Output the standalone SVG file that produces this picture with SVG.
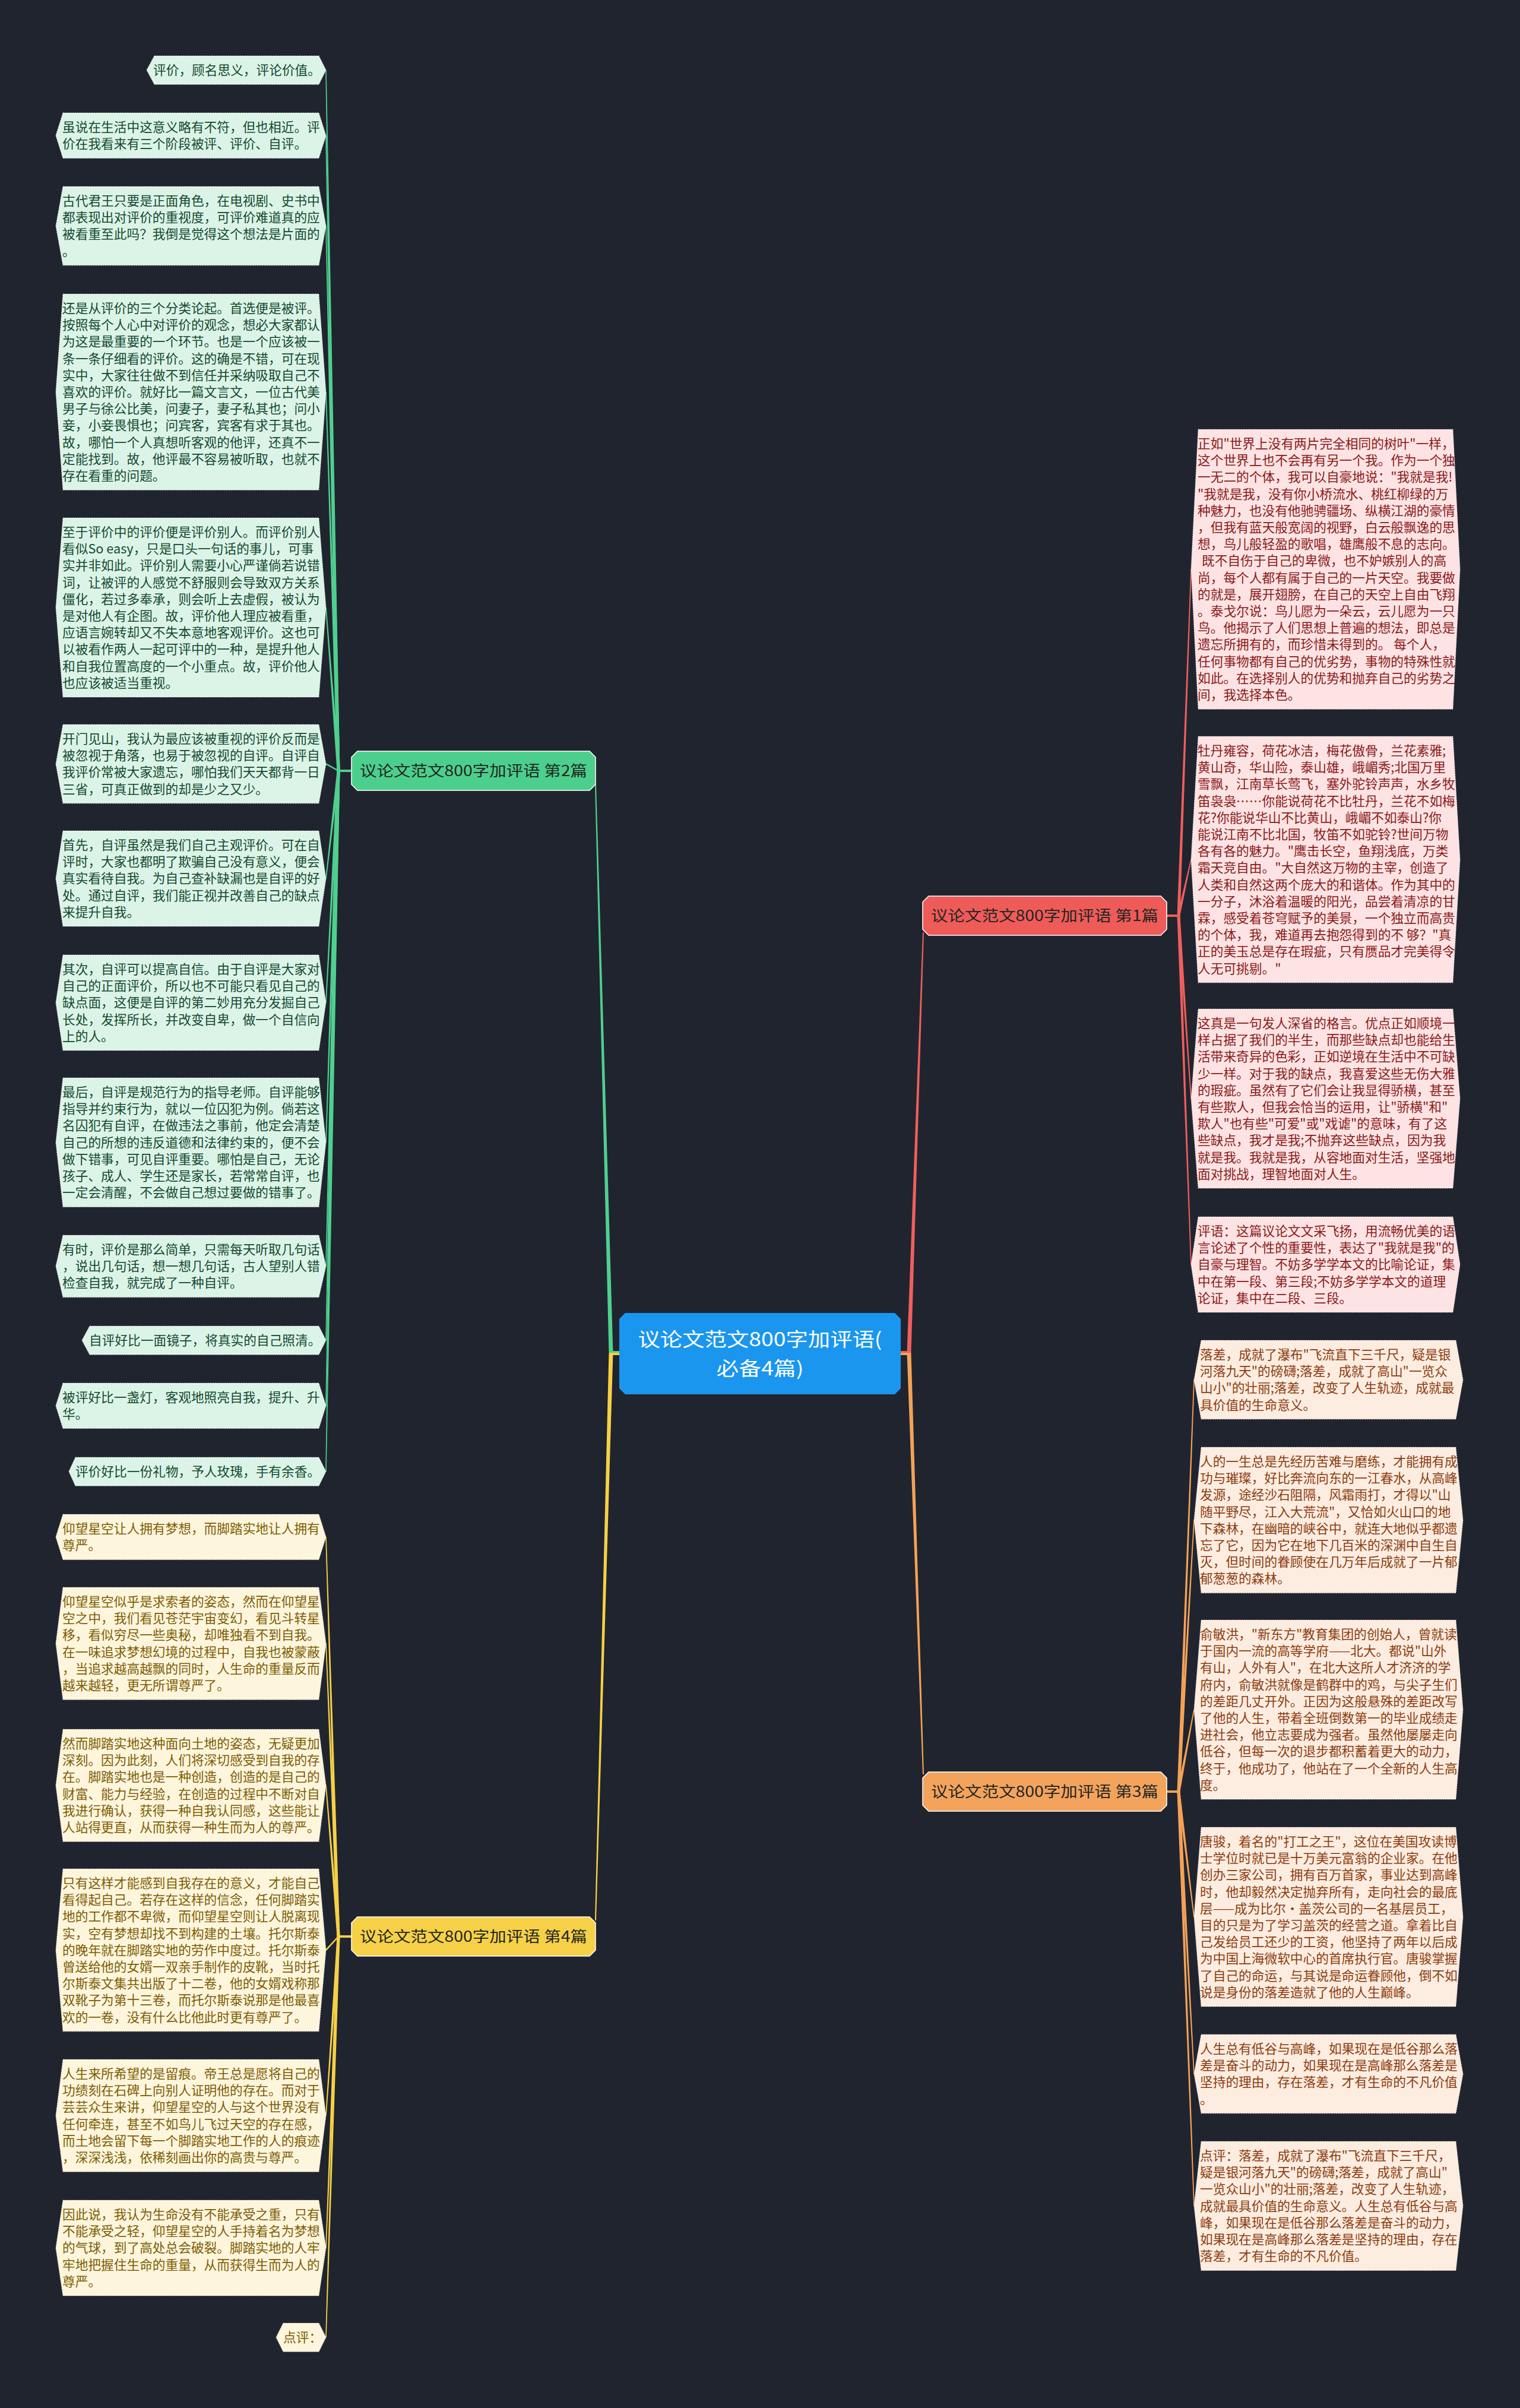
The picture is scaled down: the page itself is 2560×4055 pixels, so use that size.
<svg xmlns="http://www.w3.org/2000/svg" width="2560" height="4055" viewBox="0 0 2560 4055">
<style>
.t{font-family:"Noto Sans CJK SC","Noto Sans",sans-serif;font-size:21.7px}
.leaf{stroke:#ffffff;stroke-opacity:.6;stroke-width:1.2;stroke-dasharray:2 2}
.fg{fill:#dcf4e8}.tg{fill:#134a2f}
.fy{fill:#fdf5dc}.ty{fill:#7d5d05}
.fr{fill:#fde3e3}.tr{fill:#8a1a1a}
.fo{fill:#fdece0}.to{fill:#8b3d0f}
.br{stroke:#ffffff;stroke-width:1.5}
.bt{font-family:"Noto Sans CJK SC","Noto Sans",sans-serif;font-size:25px;fill:#1f2622;text-anchor:middle}
.ct{font-family:"Noto Sans CJK SC","Noto Sans",sans-serif;font-size:32px;fill:#ffffff;text-anchor:middle}
.cg{fill:#4fd08f}.cy{fill:#f5d145}.cr{fill:#ef5f5c}.co{fill:#f4a257}
</style>
<rect x="0" y="0" width="2560" height="4055" fill="#20242f"/>

<g id="connectors">
  <polygon class="cg" points="1025.5,2278 1032.5,2278 1004,1321 1002,1321"/>
  <polygon class="cy" points="1025.5,2278 1032.5,2278 1004,3234 1002,3234"/>
  <polygon class="cr" points="1527.5,2278 1534.5,2278 1556,1570 1554,1570"/>
  <polygon class="co" points="1527.5,2278 1534.5,2278 1556,2988 1554,2988"/>
  <line x1="1026" y1="2278" x2="1044" y2="2278" stroke="#4fd08f" stroke-width="6"/>
  <line x1="1026" y1="2280" x2="1044" y2="2280" stroke="#f5d145" stroke-width="4"/>
  <line x1="1516" y1="2278" x2="1534" y2="2278" stroke="#ef5f5c" stroke-width="6"/>
  <line x1="1516" y1="2280" x2="1534" y2="2280" stroke="#f4a257" stroke-width="4"/>
  <line x1="593" y1="1298" x2="569" y2="1298" stroke="#4fd08f" stroke-width="4"/>
  <polygon class="cg" points="567.5,1298 572.5,1298 549.8,118.1 548.2,118.1"/>
  <polygon class="cg" points="567.5,1298 572.5,1298 549.8,228.2 548.2,228.2"/>
  <polygon class="cg" points="567.5,1298 572.5,1298 549.8,380.4 548.2,380.4"/>
  <polygon class="cg" points="567.5,1298 572.5,1298 549.8,660.1 548.2,660.1"/>
  <polygon class="cg" points="567.5,1298 572.5,1298 549.8,1023 548.2,1023"/>
  <line x1="570" y1="1298" x2="549" y2="1286.4" stroke="#4fd08f" stroke-width="2.5"/>
  <polygon class="cg" points="567.5,1298 572.5,1298 549.8,1479.5 548.2,1479.5"/>
  <polygon class="cg" points="567.5,1298 572.5,1298 549.8,1688.5 548.2,1688.5"/>
  <polygon class="cg" points="567.5,1298 572.5,1298 549.8,1923.7 548.2,1923.7"/>
  <polygon class="cg" points="567.5,1298 572.5,1298 549.8,2132.3 548.2,2132.3"/>
  <polygon class="cg" points="567.5,1298 572.5,1298 549.8,2257.1 548.2,2257.1"/>
  <polygon class="cg" points="567.5,1298 572.5,1298 549.8,2367.2 548.2,2367.2"/>
  <polygon class="cg" points="567.5,1298 572.5,1298 549.8,2478.1 548.2,2478.1"/>
  <line x1="593" y1="3261" x2="569" y2="3261" stroke="#f5d145" stroke-width="4"/>
  <polygon class="cy" points="567.5,3261 572.5,3261 549.8,2588.2 548.2,2588.2"/>
  <polygon class="cy" points="567.5,3261 572.5,3261 549.8,2767.6 548.2,2767.6"/>
  <polygon class="cy" points="567.5,3261 572.5,3261 549.8,3006.6 548.2,3006.6"/>
  <line x1="570" y1="3261" x2="549" y2="3283.9" stroke="#f5d145" stroke-width="2.5"/>
  <polygon class="cy" points="567.5,3261 572.5,3261 549.8,3562.6 548.2,3562.6"/>
  <polygon class="cy" points="567.5,3261 572.5,3261 549.8,3785.5 548.2,3785.5"/>
  <polygon class="cy" points="567.5,3261 572.5,3261 549.8,3936.1 548.2,3936.1"/>
  <line x1="1964" y1="1542" x2="1986" y2="1542" stroke="#ef5f5c" stroke-width="4"/>
  <polygon class="cr" points="1982.5,1542 1987.5,1542 2006.8,958.6 2005.2,958.6"/>
  <polygon class="cr" points="1982.5,1542 1987.5,1542 2006.8,1447.4 2005.2,1447.4"/>
  <polygon class="cr" points="1982.5,1542 1987.5,1542 2006.8,1850 2005.2,1850"/>
  <polygon class="cr" points="1982.5,1542 1987.5,1542 2006.8,2129.5 2005.2,2129.5"/>
  <line x1="1964" y1="3017" x2="1986" y2="3017" stroke="#f4a257" stroke-width="4"/>
  <polygon class="co" points="1982.5,3017 1987.5,3017 2011.8,2323.4 2010.2,2323.4"/>
  <polygon class="co" points="1982.5,3017 1987.5,3017 2011.8,2559.8 2010.2,2559.8"/>
  <polygon class="co" points="1982.5,3017 1987.5,3017 2011.8,2879 2010.2,2879"/>
  <polygon class="co" points="1982.5,3017 1987.5,3017 2011.8,3228 2010.2,3228"/>
  <polygon class="co" points="1982.5,3017 1987.5,3017 2011.8,3492.4 2010.2,3492.4"/>
  <polygon class="co" points="1982.5,3017 1987.5,3017 2011.8,3714.7 2010.2,3714.7"/>
</g>

<g id="center">
  <path d="M1053,2211 H1507 L1517,2221 V2338 L1507,2348 H1053 L1043,2338 V2221 Z" fill="#1a96ef"/>
  <text class="ct" x="1280" y="2267" textLength="411" lengthAdjust="spacingAndGlyphs">议论文范文800字加评语(</text>
  <text class="ct" x="1280" y="2316" textLength="147" lengthAdjust="spacingAndGlyphs">必备4篇)</text>
</g>

<g id="branch2">
  <path class="br" d="M602,1265 H993 L1003,1275 V1321 L993,1331 H602 L592,1321 V1275 Z" fill="#4ccf8c"/>
  <text class="bt" x="797.5" y="1307" textLength="383" lengthAdjust="spacingAndGlyphs">议论文范文800字加评语 第2篇</text>
</g>
<g id="branch4">
  <path class="br" d="M602,3228 H993 L1003,3238 V3284 L993,3294 H602 L592,3284 V3238 Z" fill="#f6d147"/>
  <text class="bt" x="797.5" y="3270" textLength="383" lengthAdjust="spacingAndGlyphs">议论文范文800字加评语 第4篇</text>
</g>
<g id="branch1">
  <path class="br" d="M1564,1509 H1955 L1965,1519 V1565 L1955,1575 H1564 L1554,1565 V1519 Z" fill="#ee5b58"/>
  <text class="bt" x="1759.5" y="1551" textLength="383" lengthAdjust="spacingAndGlyphs">议论文范文800字加评语 第1篇</text>
</g>
<g id="branch3">
  <path class="br" d="M1564,2984 H1955 L1965,2994 V3040 L1955,3050 H1564 L1554,3040 V2994 Z" fill="#f3a35c"/>
  <text class="bt" x="1759.5" y="3026" textLength="383" lengthAdjust="spacingAndGlyphs">议论文范文800字加评语 第3篇</text>
</g>

<g id="leaf-g1">
  <path class="leaf fg" d="M260,94 H537 L549,118.1 L537,142.2 H260 L247,118.1 Z"/>
  <text class="t tg" x="258" y="126">评价，顾名思义，评论价值。</text>
</g>
<g id="leaf-g2">
  <path class="leaf fg" d="M106,190 H537 L549,228.2 L537,266.4 H106 L94,228.2 Z"/>
  <text class="t tg" x="105" y="222"><tspan x="105" dy="0">虽说在生活中这意义略有不符，但也相近。评</tspan><tspan x="105" dy="28.2">价在我看来有三个阶段被评、评价、自评。</tspan></text>
</g>
<g id="leaf-g3">
  <path class="leaf fg" d="M106,314 H537 L549,380.4 L537,446.8 H106 L94,380.4 Z"/>
  <text class="t tg" x="105" y="346"><tspan x="105" dy="0">古代君王只要是正面角色，在电视剧、史书中</tspan><tspan x="105" dy="28.2">都表现出对评价的重视度，可评价难道真的应</tspan><tspan x="105" dy="28.2">被看重至此吗？我倒是觉得这个想法是片面的</tspan><tspan x="105" dy="28.2">。</tspan></text>
</g>
<g id="leaf-g4">
  <path class="leaf fg" d="M106,495 H537 L549,660.1 L537,825.2 H106 L94,660.1 Z"/>
  <text class="t tg" x="105" y="527"><tspan x="105" dy="0">还是从评价的三个分类论起。首选便是被评。</tspan><tspan x="105" dy="28.2">按照每个人心中对评价的观念，想必大家都认</tspan><tspan x="105" dy="28.2">为这是最重要的一个环节。也是一个应该被一</tspan><tspan x="105" dy="28.2">条一条仔细看的评价。这的确是不错，可在现</tspan><tspan x="105" dy="28.2">实中，大家往往做不到信任并采纳吸取自己不</tspan><tspan x="105" dy="28.2">喜欢的评价。就好比一篇文言文，一位古代美</tspan><tspan x="105" dy="28.2">男子与徐公比美，问妻子，妻子私其也；问小</tspan><tspan x="105" dy="28.2">妾，小妾畏惧也；问宾客，宾客有求于其也。</tspan><tspan x="105" dy="28.2">故，哪怕一个人真想听客观的他评，还真不一</tspan><tspan x="105" dy="28.2">定能找到。故，他评最不容易被听取，也就不</tspan><tspan x="105" dy="28.2">存在看重的问题。</tspan></text>
</g>
<g id="leaf-g5">
  <path class="leaf fg" d="M106,872 H537 L549,1023 L537,1174 H106 L94,1023 Z"/>
  <text class="t tg" x="105" y="904"><tspan x="105" dy="0">至于评价中的评价便是评价别人。而评价别人</tspan><tspan x="105" dy="28.2">看似So easy，只是口头一句话的事儿，可事</tspan><tspan x="105" dy="28.2">实并非如此。评价别人需要小心严谨倘若说错</tspan><tspan x="105" dy="28.2">词，让被评的人感觉不舒服则会导致双方关系</tspan><tspan x="105" dy="28.2">僵化，若过多奉承，则会听上去虚假，被认为</tspan><tspan x="105" dy="28.2">是对他人有企图。故，评价他人理应被看重，</tspan><tspan x="105" dy="28.2">应语言婉转却又不失本意地客观评价。这也可</tspan><tspan x="105" dy="28.2">以被看作两人一起可评中的一种，是提升他人</tspan><tspan x="105" dy="28.2">和自我位置高度的一个小重点。故，评价他人</tspan><tspan x="105" dy="28.2">也应该被适当重视。</tspan></text>
</g>
<g id="leaf-g6">
  <path class="leaf fg" d="M106,1220 H537 L549,1286.4 L537,1352.8 H106 L94,1286.4 Z"/>
  <text class="t tg" x="105" y="1252"><tspan x="105" dy="0">开门见山，我认为最应该被重视的评价反而是</tspan><tspan x="105" dy="28.2">被忽视于角落，也易于被忽视的自评。自评自</tspan><tspan x="105" dy="28.2">我评价常被大家遗忘，哪怕我们天天都背一日</tspan><tspan x="105" dy="28.2">三省，可真正做到的却是少之又少。</tspan></text>
</g>
<g id="leaf-g7">
  <path class="leaf fg" d="M106,1399 H537 L549,1479.5 L537,1560 H106 L94,1479.5 Z"/>
  <text class="t tg" x="105" y="1431"><tspan x="105" dy="0">首先，自评虽然是我们自己主观评价。可在自</tspan><tspan x="105" dy="28.2">评时，大家也都明了欺骗自己没有意义，便会</tspan><tspan x="105" dy="28.2">真实看待自我。为自己查补缺漏也是自评的好</tspan><tspan x="105" dy="28.2">处。通过自评，我们能正视并改善自己的缺点</tspan><tspan x="105" dy="28.2">来提升自我。</tspan></text>
</g>
<g id="leaf-g8">
  <path class="leaf fg" d="M106,1608 H537 L549,1688.5 L537,1769 H106 L94,1688.5 Z"/>
  <text class="t tg" x="105" y="1640"><tspan x="105" dy="0">其次，自评可以提高自信。由于自评是大家对</tspan><tspan x="105" dy="28.2">自己的正面评价，所以也不可能只看见自己的</tspan><tspan x="105" dy="28.2">缺点面，这便是自评的第二妙用充分发掘自己</tspan><tspan x="105" dy="28.2">长处，发挥所长，并改变自卑，做一个自信向</tspan><tspan x="105" dy="28.2">上的人。</tspan></text>
</g>
<g id="leaf-g9">
  <path class="leaf fg" d="M106,1815 H537 L549,1923.7 L537,2032.4 H106 L94,1923.7 Z"/>
  <text class="t tg" x="105" y="1847"><tspan x="105" dy="0">最后，自评是规范行为的指导老师。自评能够</tspan><tspan x="105" dy="28.2">指导并约束行为，就以一位囚犯为例。倘若这</tspan><tspan x="105" dy="28.2">名囚犯有自评，在做违法之事前，他定会清楚</tspan><tspan x="105" dy="28.2">自己的所想的违反道德和法律约束的，便不会</tspan><tspan x="105" dy="28.2">做下错事，可见自评重要。哪怕是自己，无论</tspan><tspan x="105" dy="28.2">孩子、成人、学生还是家长，若常常自评，也</tspan><tspan x="105" dy="28.2">一定会清醒，不会做自己想过要做的错事了。</tspan></text>
</g>
<g id="leaf-g10">
  <path class="leaf fg" d="M106,2080 H537 L549,2132.3 L537,2184.6 H106 L94,2132.3 Z"/>
  <text class="t tg" x="105" y="2112"><tspan x="105" dy="0">有时，评价是那么简单，只需每天听取几句话</tspan><tspan x="105" dy="28.2">，说出几句话，想一想几句话，古人望别人错</tspan><tspan x="105" dy="28.2">检查自我，就完成了一种自评。</tspan></text>
</g>
<g id="leaf-g11">
  <path class="leaf fg" d="M151,2233 H537 L549,2257.1 L537,2281.2 H151 L138,2257.1 Z"/>
  <text class="t tg" x="150" y="2265">自评好比一面镜子，将真实的自己照清。</text>
</g>
<g id="leaf-g12">
  <path class="leaf fg" d="M106,2329 H537 L549,2367.2 L537,2405.4 H106 L94,2367.2 Z"/>
  <text class="t tg" x="105" y="2361"><tspan x="105" dy="0">被评好比一盏灯，客观地照亮自我，提升、升</tspan><tspan x="105" dy="28.2">华。</tspan></text>
</g>
<g id="leaf-g13">
  <path class="leaf fg" d="M127,2454 H537 L549,2478.1 L537,2502.2 H127 L116,2478.1 Z"/>
  <text class="t tg" x="127" y="2486">评价好比一份礼物，予人玫瑰，手有余香。</text>
</g>

<g id="leaf-y1">
  <path class="leaf fy" d="M106,2550 H537 L549,2588.2 L537,2626.4 H106 L94,2588.2 Z"/>
  <text class="t ty" x="105" y="2582"><tspan x="105" dy="0">仰望星空让人拥有梦想，而脚踏实地让人拥有</tspan><tspan x="105" dy="28.2">尊严。</tspan></text>
</g>
<g id="leaf-y2">
  <path class="leaf fy" d="M106,2673 H537 L549,2767.6 L537,2862.2 H106 L94,2767.6 Z"/>
  <text class="t ty" x="105" y="2705"><tspan x="105" dy="0">仰望星空似乎是求索者的姿态，然而在仰望星</tspan><tspan x="105" dy="28.2">空之中，我们看见苍茫宇宙变幻，看见斗转星</tspan><tspan x="105" dy="28.2">移，看似穷尽一些奥秘，却唯独看不到自我。</tspan><tspan x="105" dy="28.2">在一味追求梦想幻境的过程中，自我也被蒙蔽</tspan><tspan x="105" dy="28.2">，当追求越高越飘的同时，人生命的重量反而</tspan><tspan x="105" dy="28.2">越来越轻，更无所谓尊严了。</tspan></text>
</g>
<g id="leaf-y3">
  <path class="leaf fy" d="M106,2912 H537 L549,3006.6 L537,3101.2 H106 L94,3006.6 Z"/>
  <text class="t ty" x="105" y="2944"><tspan x="105" dy="0">然而脚踏实地这种面向土地的姿态，无疑更加</tspan><tspan x="105" dy="28.2">深刻。因为此刻，人们将深切感受到自我的存</tspan><tspan x="105" dy="28.2">在。脚踏实地也是一种创造，创造的是自己的</tspan><tspan x="105" dy="28.2">财富、能力与经验，在创造的过程中不断对自</tspan><tspan x="105" dy="28.2">我进行确认，获得一种自我认同感，这些能让</tspan><tspan x="105" dy="28.2">人站得更直，从而获得一种生而为人的尊严。</tspan></text>
</g>
<g id="leaf-y4">
  <path class="leaf fy" d="M106,3147 H537 L549,3283.9 L537,3420.8 H106 L94,3283.9 Z"/>
  <text class="t ty" x="105" y="3179"><tspan x="105" dy="0">只有这样才能感到自我存在的意义，才能自己</tspan><tspan x="105" dy="28.2">看得起自己。若存在这样的信念，任何脚踏实</tspan><tspan x="105" dy="28.2">地的工作都不卑微，而仰望星空则让人脱离现</tspan><tspan x="105" dy="28.2">实，空有梦想却找不到构建的土壤。托尔斯泰</tspan><tspan x="105" dy="28.2">的晚年就在脚踏实地的劳作中度过。托尔斯泰</tspan><tspan x="105" dy="28.2">曾送给他的女婿一双亲手制作的皮靴，当时托</tspan><tspan x="105" dy="28.2">尔斯泰文集共出版了十二卷，他的女婿戏称那</tspan><tspan x="105" dy="28.2">双靴子为第十三卷，而托尔斯泰说那是他最喜</tspan><tspan x="105" dy="28.2">欢的一卷，没有什么比他此时更有尊严了。</tspan></text>
</g>
<g id="leaf-y5">
  <path class="leaf fy" d="M106,3468 H537 L549,3562.6 L537,3657.2 H106 L94,3562.6 Z"/>
  <text class="t ty" x="105" y="3500"><tspan x="105" dy="0">人生来所希望的是留痕。帝王总是愿将自己的</tspan><tspan x="105" dy="28.2">功绩刻在石碑上向别人证明他的存在。而对于</tspan><tspan x="105" dy="28.2">芸芸众生来讲，仰望星空的人与这个世界没有</tspan><tspan x="105" dy="28.2">任何牵连，甚至不如鸟儿飞过天空的存在感，</tspan><tspan x="105" dy="28.2">而土地会留下每一个脚踏实地工作的人的痕迹</tspan><tspan x="105" dy="28.2">，深深浅浅，依稀刻画出你的高贵与尊严。</tspan></text>
</g>
<g id="leaf-y6">
  <path class="leaf fy" d="M106,3705 H537 L549,3785.5 L537,3866 H106 L94,3785.5 Z"/>
  <text class="t ty" x="105" y="3737"><tspan x="105" dy="0">因此说，我认为生命没有不能承受之重，只有</tspan><tspan x="105" dy="28.2">不能承受之轻，仰望星空的人手持着名为梦想</tspan><tspan x="105" dy="28.2">的气球，到了高处总会破裂。脚踏实地的人牢</tspan><tspan x="105" dy="28.2">牢地把握住生命的重量，从而获得生而为人的</tspan><tspan x="105" dy="28.2">尊严。</tspan></text>
</g>
<g id="leaf-y7">
  <path class="leaf fy" d="M477,3912 H537 L549,3936.1 L537,3960.2 H477 L465,3936.1 Z"/>
  <text class="t ty" x="477" y="3944">点评：</text>
</g>

<g id="leaf-r1">
  <path class="leaf fr" d="M2018,723 H2447 L2459,958.6 L2447,1194.2 H2018 L2006,958.6 Z"/>
  <text class="t tr" x="2017" y="755"><tspan x="2017" dy="0">正如"世界上没有两片完全相同的树叶"一样，</tspan><tspan x="2017" dy="28.2">这个世界上也不会再有另一个我。作为一个独</tspan><tspan x="2017" dy="28.2">一无二的个体，我可以自豪地说："我就是我!</tspan><tspan x="2017" dy="28.2">"我就是我，没有你小桥流水、桃红柳绿的万</tspan><tspan x="2017" dy="28.2">种魅力，也没有他驰骋疆场、纵横江湖的豪情</tspan><tspan x="2017" dy="28.2">，但我有蓝天般宽阔的视野，白云般飘逸的思</tspan><tspan x="2017" dy="28.2">想，鸟儿般轻盈的歌唱，雄鹰般不息的志向。</tspan><tspan x="2024" dy="28.2">既不自伤于自己的卑微，也不妒嫉别人的高</tspan><tspan x="2017" dy="28.2">尚，每个人都有属于自己的一片天空。我要做</tspan><tspan x="2017" dy="28.2">的就是，展开翅膀，在自己的天空上自由飞翔</tspan><tspan x="2017" dy="28.2">。泰戈尔说：鸟儿愿为一朵云，云儿愿为一只</tspan><tspan x="2017" dy="28.2">鸟。他揭示了人们思想上普遍的想法，即总是</tspan><tspan x="2017" dy="28.2">遗忘所拥有的，而珍惜未得到的。 每个人，</tspan><tspan x="2017" dy="28.2">任何事物都有自己的优劣势，事物的特殊性就</tspan><tspan x="2017" dy="28.2">如此。在选择别人的优势和抛弃自己的劣势之</tspan><tspan x="2017" dy="28.2">间，我选择本色。</tspan></text>
</g>
<g id="leaf-r2">
  <path class="leaf fr" d="M2018,1240 H2447 L2459,1447.4 L2447,1654.8 H2018 L2006,1447.4 Z"/>
  <text class="t tr" x="2017" y="1272"><tspan x="2017" dy="0">牡丹雍容，荷花冰洁，梅花傲骨，兰花素雅;</tspan><tspan x="2017" dy="28.2">黄山奇，华山险，泰山雄，峨嵋秀;北国万里</tspan><tspan x="2017" dy="28.2">雪飘，江南草长莺飞，塞外驼铃声声，水乡牧</tspan><tspan x="2017" dy="28.2">笛袅袅……你能说荷花不比牡丹，兰花不如梅</tspan><tspan x="2017" dy="28.2">花?你能说华山不比黄山，峨嵋不如泰山?你</tspan><tspan x="2017" dy="28.2">能说江南不比北国，牧笛不如驼铃?世间万物</tspan><tspan x="2017" dy="28.2">各有各的魅力。"鹰击长空，鱼翔浅底，万类</tspan><tspan x="2017" dy="28.2">霜天竞自由。"大自然这万物的主宰，创造了</tspan><tspan x="2017" dy="28.2">人类和自然这两个庞大的和谐体。作为其中的</tspan><tspan x="2017" dy="28.2">一分子，沐浴着温暖的阳光，品尝着清凉的甘</tspan><tspan x="2017" dy="28.2">霖，感受着苍穹赋予的美景，一个独立而高贵</tspan><tspan x="2017" dy="28.2">的个体，我，难道再去抱怨得到的不 够？"真</tspan><tspan x="2017" dy="28.2">正的美玉总是存在瑕疵，只有赝品才完美得令</tspan><tspan x="2017" dy="28.2">人无可挑剔。"</tspan></text>
</g>
<g id="leaf-r3">
  <path class="leaf fr" d="M2018,1699 H2447 L2459,1850 L2447,2001 H2018 L2006,1850 Z"/>
  <text class="t tr" x="2017" y="1731"><tspan x="2017" dy="0">这真是一句发人深省的格言。优点正如顺境一</tspan><tspan x="2017" dy="28.2">样占据了我们的半生，而那些缺点却也能给生</tspan><tspan x="2017" dy="28.2">活带来奇异的色彩，正如逆境在生活中不可缺</tspan><tspan x="2017" dy="28.2">少一样。对于我的缺点，我喜爱这些无伤大雅</tspan><tspan x="2017" dy="28.2">的瑕疵。虽然有了它们会让我显得骄横，甚至</tspan><tspan x="2017" dy="28.2">有些欺人，但我会恰当的运用，让"骄横"和"</tspan><tspan x="2017" dy="28.2">欺人"也有些"可爱"或"戏谑"的意味，有了这</tspan><tspan x="2017" dy="28.2">些缺点，我才是我;不抛弃这些缺点，因为我</tspan><tspan x="2017" dy="28.2">就是我。我就是我，从容地面对生活，坚强地</tspan><tspan x="2017" dy="28.2">面对挑战，理智地面对人生。</tspan></text>
</g>
<g id="leaf-r4">
  <path class="leaf fr" d="M2018,2049 H2447 L2459,2129.5 L2447,2210 H2018 L2006,2129.5 Z"/>
  <text class="t tr" x="2017" y="2081"><tspan x="2017" dy="0">评语：这篇议论文文采飞扬，用流畅优美的语</tspan><tspan x="2017" dy="28.2">言论述了个性的重要性，表达了"我就是我"的</tspan><tspan x="2017" dy="28.2">自豪与理智。不妨多学学本文的比喻论证，集</tspan><tspan x="2017" dy="28.2">中在第一段、第三段;不妨多学学本文的道理</tspan><tspan x="2017" dy="28.2">论证，集中在二段、三段。</tspan></text>
</g>

<g id="leaf-o1">
  <path class="leaf fo" d="M2023,2257 H2452 L2464,2323.4 L2452,2389.8 H2023 L2011,2323.4 Z"/>
  <text class="t to" x="2021" y="2289"><tspan x="2021" dy="0">落差，成就了瀑布"飞流直下三千尺，疑是银</tspan><tspan x="2021" dy="28.2">河落九天"的磅礴;落差，成就了高山"一览众</tspan><tspan x="2021" dy="28.2">山小"的壮丽;落差，改变了人生轨迹，成就最</tspan><tspan x="2021" dy="28.2">具价值的生命意义。</tspan></text>
</g>
<g id="leaf-o2">
  <path class="leaf fo" d="M2023,2437 H2452 L2464,2559.8 L2452,2682.6 H2023 L2011,2559.8 Z"/>
  <text class="t to" x="2021" y="2469"><tspan x="2021" dy="0">人的一生总是先经历苦难与磨练，才能拥有成</tspan><tspan x="2021" dy="28.2">功与璀璨，好比奔流向东的一江春水，从高峰</tspan><tspan x="2021" dy="28.2">发源，途经沙石阻隔，风霜雨打，才得以"山</tspan><tspan x="2021" dy="28.2">随平野尽，江入大荒流"，又恰如火山口的地</tspan><tspan x="2021" dy="28.2">下森林，在幽暗的峡谷中，就连大地似乎都遗</tspan><tspan x="2021" dy="28.2">忘了它，因为它在地下几百米的深渊中自生自</tspan><tspan x="2021" dy="28.2">灭，但时间的眷顾使在几万年后成就了一片郁</tspan><tspan x="2021" dy="28.2">郁葱葱的森林。</tspan></text>
</g>
<g id="leaf-o3">
  <path class="leaf fo" d="M2023,2728 H2452 L2464,2879 L2452,3030 H2023 L2011,2879 Z"/>
  <text class="t to" x="2021" y="2760"><tspan x="2021" dy="0">俞敏洪，"新东方"教育集团的创始人，曾就读</tspan><tspan x="2021" dy="28.2">于国内一流的高等学府——北大。都说"山外</tspan><tspan x="2021" dy="28.2">有山，人外有人"，在北大这所人才济济的学</tspan><tspan x="2021" dy="28.2">府内，俞敏洪就像是鹤群中的鸡，与尖子生们</tspan><tspan x="2021" dy="28.2">的差距几丈开外。正因为这般悬殊的差距改写</tspan><tspan x="2021" dy="28.2">了他的人生，带着全班倒数第一的毕业成绩走</tspan><tspan x="2021" dy="28.2">进社会，他立志要成为强者。虽然他屡屡走向</tspan><tspan x="2021" dy="28.2">低谷，但每一次的退步都积蓄着更大的动力，</tspan><tspan x="2021" dy="28.2">终于，他成功了，他站在了一个全新的人生高</tspan><tspan x="2021" dy="28.2">度。</tspan></text>
</g>
<g id="leaf-o4">
  <path class="leaf fo" d="M2023,3077 H2452 L2464,3228 L2452,3379 H2023 L2011,3228 Z"/>
  <text class="t to" x="2021" y="3109"><tspan x="2021" dy="0">唐骏，着名的"打工之王"，这位在美国攻读博</tspan><tspan x="2021" dy="28.2">士学位时就已是十万美元富翁的企业家。在他</tspan><tspan x="2021" dy="28.2">创办三家公司，拥有百万首家，事业达到高峰</tspan><tspan x="2021" dy="28.2">时，他却毅然决定抛弃所有，走向社会的最底</tspan><tspan x="2021" dy="28.2">层——成为比尔·盖茨公司的一名基层员工，</tspan><tspan x="2021" dy="28.2">目的只是为了学习盖茨的经营之道。拿着比自</tspan><tspan x="2021" dy="28.2">己发给员工还少的工资，他坚持了两年以后成</tspan><tspan x="2021" dy="28.2">为中国上海微软中心的首席执行官。唐骏掌握</tspan><tspan x="2021" dy="28.2">了自己的命运，与其说是命运眷顾他，倒不如</tspan><tspan x="2021" dy="28.2">说是身份的落差造就了他的人生巅峰。</tspan></text>
</g>
<g id="leaf-o5">
  <path class="leaf fo" d="M2023,3426 H2452 L2464,3492.4 L2452,3558.8 H2023 L2011,3492.4 Z"/>
  <text class="t to" x="2021" y="3458"><tspan x="2021" dy="0">人生总有低谷与高峰，如果现在是低谷那么落</tspan><tspan x="2021" dy="28.2">差是奋斗的动力，如果现在是高峰那么落差是</tspan><tspan x="2021" dy="28.2">坚持的理由，存在落差，才有生命的不凡价值</tspan><tspan x="2021" dy="28.2">。</tspan></text>
</g>
<g id="leaf-o6">
  <path class="leaf fo" d="M2023,3606 H2452 L2464,3714.7 L2452,3823.4 H2023 L2011,3714.7 Z"/>
  <text class="t to" x="2021" y="3638"><tspan x="2021" dy="0">点评：落差，成就了瀑布"飞流直下三千尺，</tspan><tspan x="2021" dy="28.2">疑是银河落九天"的磅礴;落差，成就了高山"</tspan><tspan x="2021" dy="28.2">一览众山小"的壮丽;落差，改变了人生轨迹，</tspan><tspan x="2021" dy="28.2">成就最具价值的生命意义。人生总有低谷与高</tspan><tspan x="2021" dy="28.2">峰，如果现在是低谷那么落差是奋斗的动力，</tspan><tspan x="2021" dy="28.2">如果现在是高峰那么落差是坚持的理由，存在</tspan><tspan x="2021" dy="28.2">落差，才有生命的不凡价值。</tspan></text>
</g>
</svg>
